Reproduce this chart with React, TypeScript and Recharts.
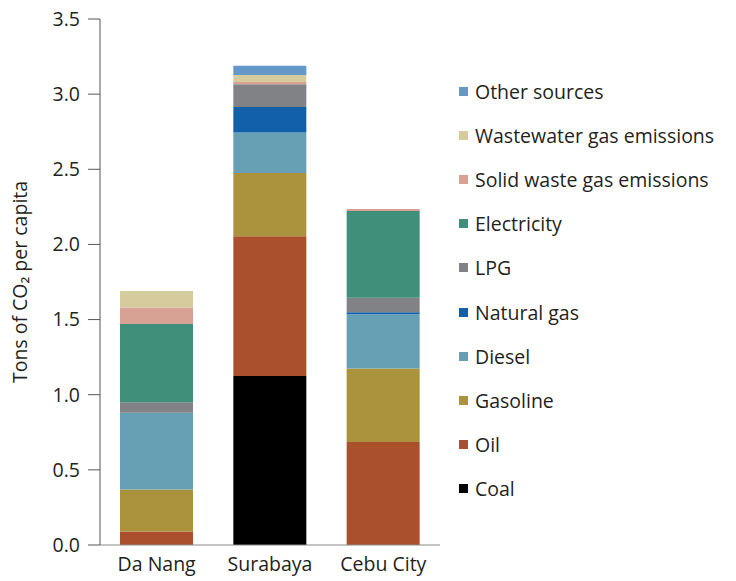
import { BarChart, Bar, XAxis, YAxis } from 'recharts';

const cities = ['Da Nang', 'Surabaya', 'Cebu City'];

// stacked from the bottom up
const coal = [0, 1.125, 0];
const oil = [0.09, 0.93, 0.685];
const gasoline = [0.28, 0.42, 0.49];
const diesel = [0.51, 0.27, 0.36];
const naturalGas = [0, 0.17, 0.014];
const lpg = [0.07, 0.15, 0.096];
const electricity = [0.52, 0, 0.578];
const solidWaste = [0.11, 0.015, 0.012];
const wastewater = [0.11, 0.047, 0];
const otherSources = [0, 0.062, 0];

const yTicks = [0, 0.5, 1, 1.5, 2, 2.5, 3, 3.5];

const series = [
  { key: 'coal', name: 'Coal', values: coal, color: '#000000' },
  { key: 'oil', name: 'Oil', values: oil, color: '#AB502C' },
  { key: 'gasoline', name: 'Gasoline', values: gasoline, color: '#AB933D' },
  { key: 'diesel', name: 'Diesel', values: diesel, color: '#67A0B5' },
  { key: 'naturalGas', name: 'Natural gas', values: naturalGas, color: '#1260A8' },
  { key: 'lpg', name: 'LPG', values: lpg, color: '#808285' },
  { key: 'electricity', name: 'Electricity', values: electricity, color: '#3F8F7A' },
  { key: 'solidWaste', name: 'Solid waste gas emissions', values: solidWaste, color: '#D7A293' },
  { key: 'wastewater', name: 'Wastewater gas emissions', values: wastewater, color: '#D6CB9C' },
  { key: 'otherSources', name: 'Other sources', values: otherSources, color: '#6398C9' },
];

const data = cities.map((city, i) => {
  const row: Record<string, string | number> = { city };
  series.forEach((s) => {
    row[s.key] = s.values[i];
  });
  return row;
});

const font = '"Open Sans", sans-serif';
const textColor = '#231F20';

function LegendBox() {
  return (
    <div
      style={{
        position: 'absolute',
        left: 459,
        top: 69,
        fontFamily: font,
        fontSize: 19.5,
        color: textColor,
        whiteSpace: 'nowrap',
      }}
    >
      {[...series].reverse().map((s) => (
        <div key={s.key} style={{ display: 'flex', alignItems: 'center', height: 44.2 }}>
          <span style={{ width: 9, height: 9, background: s.color, marginRight: 7 }} />
          <span>{s.name}</span>
        </div>
      ))}
    </div>
  );
}

export default function App() {
  return (
    <div style={{ position: 'absolute', left: 0, top: 0, width: 736, height: 581, background: '#fff' }}>
      <BarChart
        width={736}
        height={581}
        data={data}
        margin={{ top: 19, right: 296, bottom: 6, left: 0 }}
        barSize={73}
      >
        <XAxis
          dataKey="city"
          axisLine={{ stroke: '#8a8a8a' }}
          tickLine={false}
          tickSize={0}
          tickMargin={12}
          tick={{ fill: textColor, fontSize: 19.5, fontFamily: font }}
          height={30}
        />
        <YAxis
          domain={[0, 3.5]}
          ticks={yTicks}
          width={100}
          tickFormatter={(v: number) => v.toFixed(1)}
          axisLine={{ stroke: '#555' }}
          tickLine={{ stroke: '#555' }}
          tickSize={12}
          tickMargin={8}
          tick={{ fill: textColor, fontSize: 19.5, fontFamily: font }}
          label={{
            value: 'Tons of CO₂ per capita',
            angle: -90,
            position: 'insideLeft',
            offset: 20,
            style: { textAnchor: 'middle', fill: textColor, fontSize: 19.5, fontFamily: font },
          }}
        />
        {series.map((s) => (
          <Bar key={s.key} dataKey={s.key} name={s.name} stackId="a" fill={s.color} isAnimationActive={false} />
        ))}
      </BarChart>
      <LegendBox />
    </div>
  );
}
